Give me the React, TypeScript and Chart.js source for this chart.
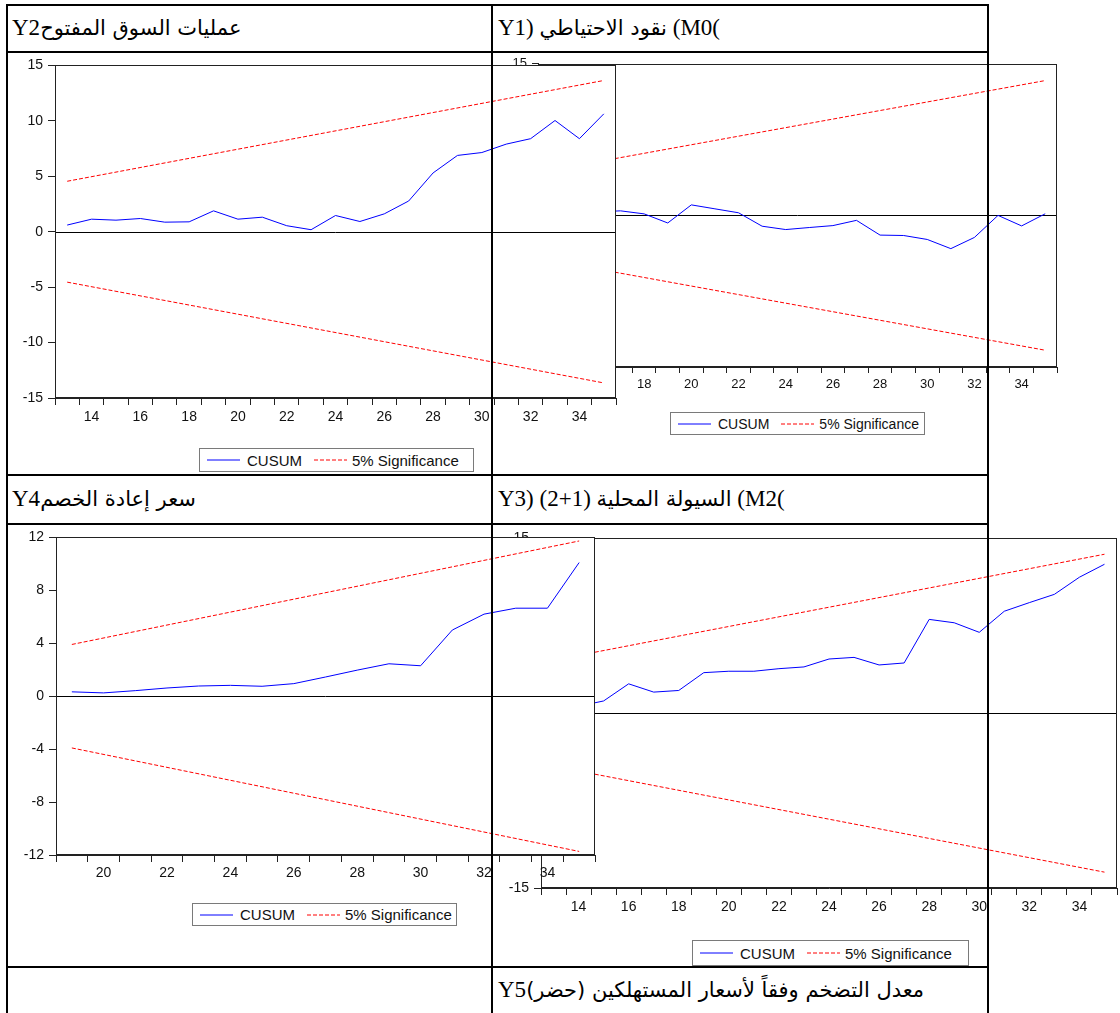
import React, { useEffect, useRef } from "react";
import { Chart, registerables } from "chart.js";
Chart.register(...registerables);

// ---------- DATA ----------
// Y2 : open market operations (top-left)
const Y2_OBS = [13, 14, 15, 16, 17, 18, 19, 20, 21, 22, 23, 24, 25, 26, 27, 28, 29, 30, 31, 32, 33, 34, 35];
const Y2_CUSUM = [0.6, 1.13, 1.04, 1.19, 0.86, 0.89, 1.88, 1.13, 1.31, 0.54, 0.18, 1.46, 0.92, 1.61, 2.77, 5.3, 6.88, 7.14, 7.9, 8.39, 10.03, 8.39, 10.63];
const Y2_BOUND_OBS = [13, 35];
const Y2_UPPER = [4.55, 13.64];
const Y2_LOWER = [-4.55, -13.64];
const Y2_XLABELS = [14, 16, 18, 20, 22, 24, 26, 28, 30, 32, 34];
const Y2_YTICKS = [-15, -10, -5, 0, 5, 10, 15];

// Y1 : reserve money M0 (top-right)
const Y1_OBS = [14, 15, 16, 17, 18, 19, 20, 21, 22, 23, 24, 25, 26, 27, 28, 29, 30, 31, 32, 33, 34, 35];
const Y1_CUSUM = [0.15, 0.55, 0.35, 0.45, 0.15, -0.75, 1.04, 0.65, 0.26, -1.07, -1.4, -1.2, -1.01, -0.49, -1.95, -1.99, -2.38, -3.29, -2.18, 0.0, -1.04, 0.16];
const Y1_BOUND_OBS = [14, 35];
const Y1_UPPER = [4.45, 13.34];
const Y1_LOWER = [-4.45, -13.34];
const Y1_XLABELS = [14, 16, 18, 20, 22, 24, 26, 28, 30, 32, 34];
const Y1_YTICKS = [-15, -10, -5, 0, 5, 10, 15];

// Y4 : rediscount rate (bottom-left)
const Y4_OBS = [19, 20, 21, 22, 23, 24, 25, 26, 27, 28, 29, 30, 31, 32, 33, 34, 35];
const Y4_CUSUM = [0.33, 0.25, 0.42, 0.62, 0.77, 0.82, 0.75, 0.95, 1.45, 1.97, 2.45, 2.3, 5.0, 6.2, 6.65, 6.65, 10.1];
const Y4_BOUND_OBS = [19, 35];
const Y4_UPPER = [3.91, 11.73];
const Y4_LOWER = [-3.91, -11.73];
const Y4_XLABELS = [20, 22, 24, 26, 28, 30, 32, 34];
const Y4_YTICKS = [-12, -8, -4, 0, 4, 8, 12];

// Y3 : domestic liquidity M2 (bottom-right)
const Y3_OBS = [13, 14, 15, 16, 17, 18, 19, 20, 21, 22, 23, 24, 25, 26, 27, 28, 29, 30, 31, 32, 33, 34, 35];
const Y3_CUSUM = [0.3, 0.6, 1.05, 2.52, 1.81, 1.95, 3.48, 3.6, 3.6, 3.82, 3.97, 4.65, 4.79, 4.14, 4.31, 8.05, 7.76, 6.94, 8.75, 9.49, 10.2, 11.67, 12.78];
const Y3_BOUND_OBS = [13, 35];
const Y3_UPPER = [4.55, 13.64];
const Y3_LOWER = [-4.55, -13.64];
const Y3_XLABELS = [14, 16, 18, 20, 22, 24, 26, 28, 30, 32, 34];
const Y3_YTICKS = [-15, -10, -5, 0, 5, 10, 15];

const LEGEND_LABELS = ["CUSUM", "5% Significance"];

// ---------- TYPES ----------
type Area = { l: number; t: number; r: number; b: number };
type Spec = {
  obs: number[];
  cusum: number[];
  boundObs: number[];
  upper: number[];
  lower: number[];
  xLabels: number[];
  yTicks: number[];
  area: Area;
  font: number;
  z: number;
  yAxisW: number;
  xAxisH: number;
  xTickLen: number;
  xPad: number;
  yTickLen: number;
  yPad: number;
};

const AXIS_COLOR = "#222";
const SANS = '"Liberation Sans", Arial, Helvetica, sans-serif';

function CusumChart({ spec }: { spec: Spec }) {
  const ref = useRef<HTMLCanvasElement>(null);
  const padTop = 10;
  const padRight = 3;
  const left = spec.area.l - spec.yAxisW;
  const top = spec.area.t - padTop;
  const width = spec.area.r + padRight - left;
  const height = spec.area.b + spec.xAxisH - top;

  useEffect(() => {
    const xMin = spec.obs[0] - 0.5;
    const xMax = spec.obs[spec.obs.length - 1] + 0.5;
    const labelSet = new Set(spec.xLabels);
    const xTicks = [...spec.obs.map((o) => o - 0.5), xMax, ...spec.xLabels].sort((a, b) => a - b);
    const yMin = spec.yTicks[0];
    const yMax = spec.yTicks[spec.yTicks.length - 1];

    const framePlugin = {
      id: "frame" + spec.z + spec.area.l,
      beforeDraw(chart: any) {
        const { ctx, chartArea: a } = chart;
        ctx.save();
        ctx.fillStyle = "#ffffff";
        ctx.fillRect(a.left, a.top, a.right - a.left, a.bottom - a.top);
        ctx.restore();
      },
      beforeDatasetsDraw(chart: any) {
        const { ctx, chartArea: a } = chart;
        const y0 = Math.round(chart.scales.y.getPixelForValue(0)) + 0.5;
        ctx.save();
        ctx.strokeStyle = "#000";
        ctx.lineWidth = 1;
        ctx.beginPath();
        ctx.moveTo(a.left, y0);
        ctx.lineTo(a.right, y0);
        ctx.stroke();
        ctx.restore();
      },
      afterDraw(chart: any) {
        const { ctx, chartArea: a } = chart;
        ctx.save();
        ctx.strokeStyle = AXIS_COLOR;
        ctx.lineWidth = 1;
        ctx.strokeRect(Math.round(a.left) + 0.5, Math.round(a.top) + 0.5, Math.round(a.right - a.left) - 1, Math.round(a.bottom - a.top) - 1);
        ctx.restore();
      },
    };

    const chart = new Chart(ref.current as HTMLCanvasElement, {
      type: "line",
      data: {
        datasets: [
          {
            label: LEGEND_LABELS[0],
            data: spec.obs.map((x, i) => ({ x, y: spec.cusum[i] })),
            borderColor: "#0000ff",
            borderWidth: 1,
            pointRadius: 0,
            tension: 0,
            fill: false,
          },
          {
            label: LEGEND_LABELS[1],
            data: spec.boundObs.map((x, i) => ({ x, y: spec.upper[i] })),
            borderColor: "#ff0000",
            borderWidth: 1,
            borderDash: [4, 2],
            pointRadius: 0,
            fill: false,
          },
          {
            label: LEGEND_LABELS[1] + " ",
            data: spec.boundObs.map((x, i) => ({ x, y: spec.lower[i] })),
            borderColor: "#ff0000",
            borderWidth: 1,
            borderDash: [4, 2],
            pointRadius: 0,
            fill: false,
          },
        ],
      },
      options: {
        responsive: false,
        animation: false,
        events: [],
        layout: { padding: { left: 0, top: padTop, right: padRight, bottom: 0 } },
        plugins: { legend: { display: false }, tooltip: { enabled: false } },
        scales: {
          x: {
            type: "linear",
            min: xMin,
            max: xMax,
            afterBuildTicks: (s: any) => {
              s.ticks = xTicks.map((v) => ({ value: v }));
            },
            afterFit: (s: any) => {
              s.height = spec.xAxisH;
              s.paddingLeft = 0;
              s.paddingRight = 0;
            },
            ticks: {
              autoSkip: false,
              maxRotation: 0,
              minRotation: 0,
              padding: spec.xPad,
              color: "#111",
              font: { size: spec.font, family: SANS },
              callback: (v: any) => (labelSet.has(Number(v)) ? String(v) : ""),
            },
            grid: {
              drawOnChartArea: false,
              drawTicks: true,
              tickLength: spec.xTickLen,
              tickColor: (c: any) => (c.tick && labelSet.has(c.tick.value) ? "rgba(0,0,0,0)" : AXIS_COLOR),
            },
            border: { display: true, color: AXIS_COLOR },
          },
          y: {
            type: "linear",
            min: yMin,
            max: yMax,
            afterBuildTicks: (s: any) => {
              s.ticks = spec.yTicks.map((v) => ({ value: v }));
            },
            afterFit: (s: any) => {
              s.width = spec.yAxisW;
            },
            ticks: {
              autoSkip: false,
              padding: spec.yPad,
              color: "#111",
              font: { size: spec.font, family: SANS },
              callback: (v: any) => String(v),
            },
            grid: {
              drawOnChartArea: false,
              drawTicks: true,
              tickLength: spec.yTickLen,
              tickColor: AXIS_COLOR,
            },
            border: { display: true, color: AXIS_COLOR },
          },
        },
      } as any,
      plugins: [framePlugin],
    });
    return () => chart.destroy();
  }, []);

  return (
    <canvas
      ref={ref}
      width={width}
      height={height}
      style={{ position: "absolute", left, top, width, height, zIndex: spec.z }}
    />
  );
}

function Legend({ l, t, w, h, font, z }: { l: number; t: number; w: number; h: number; font: number; z: number }) {
  return (
    <div
      style={{
        position: "absolute",
        left: l,
        top: t,
        width: w,
        height: h,
        boxSizing: "border-box",
        border: "1px solid #7a7a7a",
        background: "#fff",
        zIndex: z,
        display: "flex",
        alignItems: "center",
        fontFamily: SANS,
        fontSize: font,
        color: "#111",
        paddingLeft: 7,
        whiteSpace: "nowrap",
      }}
    >
      <svg width={33} height={4} style={{ display: "block" }}>
        <line x1={0} y1={2} x2={33} y2={2} stroke="#0000ff" strokeWidth={1} />
      </svg>
      <span style={{ marginLeft: 7 }}>{LEGEND_LABELS[0]}</span>
      <svg width={33} height={4} style={{ display: "block", marginLeft: 12 }}>
        <line x1={0} y1={2} x2={33} y2={2} stroke="#ff0000" strokeWidth={1} strokeDasharray="4 2" />
      </svg>
      <span style={{ marginLeft: 5 }}>{LEGEND_LABELS[1]}</span>
    </div>
  );
}

type Part = { t: string; ar?: boolean };
function Title({ l, cy, parts }: { l: number; cy: number; parts: Part[] }) {
  return (
    <div
      style={{
        position: "absolute",
        left: l,
        top: cy - 16,
        height: 32,
        lineHeight: "32px",
        zIndex: 20,
        whiteSpace: "pre",
        direction: "ltr",
        color: "#000",
      }}
    >
      {parts.map((p, i) => (
        <span
          key={i}
          dir={p.ar ? "rtl" : "ltr"}
          style={{
            display: "inline-block",
            whiteSpace: "pre",
            fontFamily: p.ar ? '"DejaVu Sans", sans-serif' : '"Liberation Serif", "Times New Roman", serif',
            fontSize: p.ar ? 21 : 23,
            verticalAlign: "baseline",
          }}
        >
          {p.t}
        </span>
      ))}
    </div>
  );
}

const SPEC_Y2: Spec = {
  obs: Y2_OBS, cusum: Y2_CUSUM, boundObs: Y2_BOUND_OBS, upper: Y2_UPPER, lower: Y2_LOWER,
  xLabels: Y2_XLABELS, yTicks: Y2_YTICKS,
  area: { l: 55, t: 62, r: 616, b: 398 }, font: 14, z: 4,
  yAxisW: 48, xAxisH: 36, xTickLen: 7, xPad: 4, yTickLen: 7, yPad: 5,
};
const SPEC_Y1: Spec = {
  obs: Y1_OBS, cusum: Y1_CUSUM, boundObs: Y1_BOUND_OBS, upper: Y1_UPPER, lower: Y1_LOWER,
  xLabels: Y1_XLABELS, yTicks: Y1_YTICKS,
  area: { l: 538, t: 61, r: 1057, b: 367 }, font: 13, z: 2,
  yAxisW: 46, xAxisH: 34, xTickLen: 6, xPad: 4, yTickLen: 6, yPad: 5,
};
const SPEC_Y4: Spec = {
  obs: Y4_OBS, cusum: Y4_CUSUM, boundObs: Y4_BOUND_OBS, upper: Y4_UPPER, lower: Y4_LOWER,
  xLabels: Y4_XLABELS, yTicks: Y4_YTICKS,
  area: { l: 56, t: 534, r: 595, b: 855 }, font: 14, z: 4,
  yAxisW: 48, xAxisH: 34, xTickLen: 7, xPad: 3, yTickLen: 7, yPad: 5,
};
const SPEC_Y3: Spec = {
  obs: Y3_OBS, cusum: Y3_CUSUM, boundObs: Y3_BOUND_OBS, upper: Y3_UPPER, lower: Y3_LOWER,
  xLabels: Y3_XLABELS, yTicks: Y3_YTICKS,
  area: { l: 541, t: 535, r: 1117, b: 888 }, font: 14, z: 2,
  yAxisW: 48, xAxisH: 36, xTickLen: 7, xPad: 4, yTickLen: 7, yPad: 5,
};

function HLine({ y }: { y: number }) {
  return <div style={{ position: "absolute", left: 6, top: y, width: 983, height: 2, background: "#000", zIndex: 30 }} />;
}
function VLine({ x }: { x: number }) {
  return <div style={{ position: "absolute", left: x, top: 4, width: 2, height: 1013, background: "#000", zIndex: 30 }} />;
}

export default function App() {
  return (
    <div style={{ position: "absolute", left: 0, top: 0, width: 1120, height: 1013, overflow: "hidden", background: "#fff" }}>
      <CusumChart spec={SPEC_Y1} />
      <CusumChart spec={SPEC_Y2} />
      <CusumChart spec={SPEC_Y3} />
      <CusumChart spec={SPEC_Y4} />

      <Legend l={199} t={448} w={275} h={24} font={15} z={5} />
      <Legend l={670} t={412} w={255} h={23} font={14} z={3} />
      <Legend l={192} t={903} w={265} h={23} font={15} z={5} />
      <Legend l={692} t={940} w={277} h={26} font={15} z={3} />

      <Title l={12} cy={28} parts={[{ t: "Y2" }, { t: "عمليات السوق المفتوح", ar: true }]} />
      <Title l={498} cy={28} parts={[{ t: "Y1) " }, { t: "نقود الاحتياطي", ar: true }, { t: " (M0(" }]} />
      <Title l={12} cy={499} parts={[{ t: "Y4" }, { t: "سعر إعادة الخصم", ar: true }]} />
      <Title l={498} cy={499} parts={[{ t: "Y3) (2+1) " }, { t: "السيولة المحلية", ar: true }, { t: " (M2(" }]} />
      <Title l={498} cy={990} parts={[{ t: "Y5" }, { t: "معدل التضخم وفقاً لأسعار المستهلكين (حضر)", ar: true }]} />

      <HLine y={4} />
      <HLine y={51} />
      <HLine y={474} />
      <HLine y={523} />
      <HLine y={966} />
      <VLine x={6} />
      <VLine x={491} />
      <VLine x={987} />
    </div>
  );
}
